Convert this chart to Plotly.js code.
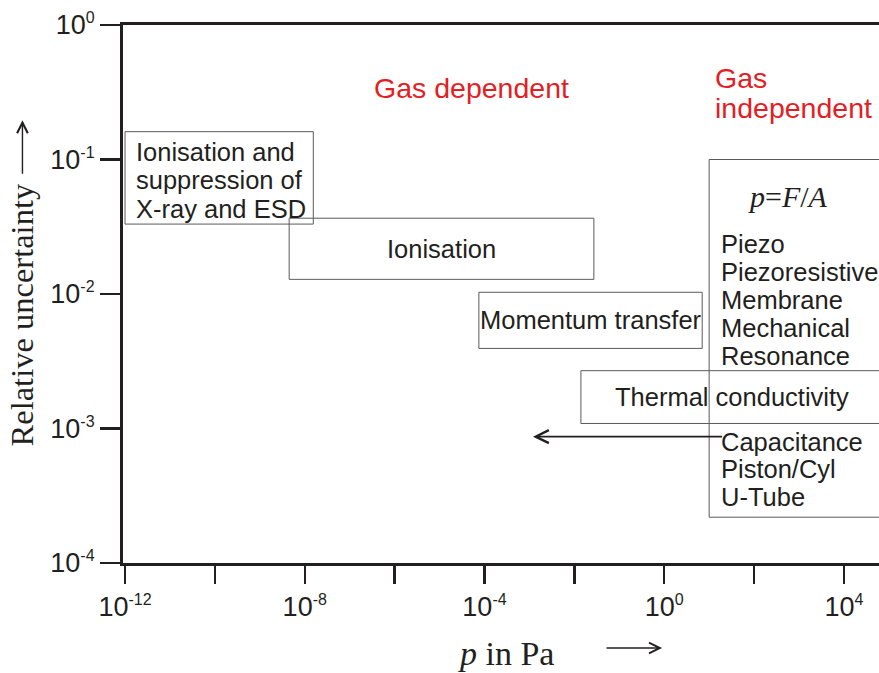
<!DOCTYPE html>
<html>
<head>
<meta charset="utf-8">
<script src="https://cdn.plot.ly/plotly-3.0.1.min.js"></script>
<style>html,body{margin:0;padding:0;background:#fff;}#chart{width:879px;height:673px;}</style>
</head>
<body>
<div id="chart"></div>
<script>
// ---- data ----
const boxNames = ['Ionisation and suppression of X-ray and ESD', 'Ionisation', 'Momentum transfer', 'Thermal conductivity', 'p=F/A'];
const boxLabelLines = [['Ionisation and', 'suppression of', 'X-ray and ESD'], ['Ionisation'], ['Momentum transfer'], ['Thermal conductivity'], []];
const pLow  = [1e-12, 4.5e-9, 7.5e-5, 0.014, 10];
const pHigh = [1.55e-8, 0.0272, 7.0, 1e6, 1e6];
const uLow  = [0.0331, 0.01285, 0.00394, 0.00109, 2.19e-4];
const uHigh = [0.161, 0.0366, 0.0103, 0.00269, 0.100];
const forceMethods = ['Piezo', 'Piezoresistive', 'Membrane', 'Mechanical', 'Resonance'];
const lowMethods = ['Capacitance', 'Piston/Cyl', 'U-Tube'];
const extensionFrom = 21;      // Pa
const extensionTo = 1.2e-3;    // Pa
const extensionU = 8.7e-4;
const xTickVals = [1e-12, 1e-10, 1e-8, 1e-6, 1e-4, 1e-2, 1, 1e2, 1e4];
const xTickExp = ['-12', '', '-8', '', '-4', '', '0', '', '4'];
const yTickVals = [1e-4, 1e-3, 1e-2, 1e-1, 1];
const yTickExp = ['-4', '-3', '-2', '-1', '0'];

// ---- drawing ----
const SANS = 'Liberation Sans, Arial, sans-serif';
const SERIF = 'Liberation Serif, Times New Roman, serif';
const INK = '#231f20';
const RED = '#e31e24';
const L = Math.log10;
const pow10 = (e) => e === '' ? '' : '10<sup><span style="font-size:16px">' + e + '</span></sup>';

const traces = boxNames.map((name, i) => ({
  type: 'scatter', mode: 'lines', name: name, hoverinfo: 'skip', showlegend: false,
  x: [pLow[i], pHigh[i], pHigh[i], pLow[i], pLow[i]],
  y: [uLow[i], uLow[i], uHigh[i], uHigh[i], uLow[i]],
  line: {color: '#5a5a5a', width: 1}
}));

const ann = [];
const BODY = 25.5;
const txt = (o) => ann.push(Object.assign({showarrow: false, xref: 'x', yref: 'y', font: {family: SANS, size: BODY, color: INK}}, o));

const mid = (i) => (L(uLow[i]) + L(uHigh[i])) / 2;
boxLabelLines[0].forEach((t, k) => txt({text: t, x: L(pLow[0]), y: mid(0), xanchor: 'left', yanchor: 'middle', xshift: 9, yshift: 26 - 28.5 * k}));
[1, 2].forEach(i => txt({text: boxLabelLines[i][0], x: (L(pLow[i]) + L(pHigh[i])) / 2, y: mid(i), xanchor: 'center', yanchor: 'middle'}));
txt({text: boxLabelLines[3][0], x: L(pLow[3]), y: mid(3), xanchor: 'left', yanchor: 'middle', xshift: 32});
txt({text: '<i>p</i>=<i>F</i>/<i>A</i>', x: L(pLow[4]), y: L(uHigh[4]), xanchor: 'left', yanchor: 'middle', xshift: 37, yshift: -37, font: {family: SERIF, size: 30, color: INK}});
forceMethods.forEach((t, k) => txt({text: t, x: L(pLow[4]), y: L(uHigh[4]), xanchor: 'left', yanchor: 'middle', xshift: 10, yshift: -84 - 28 * k}));
lowMethods.forEach((t, k) => txt({text: t, x: L(pLow[4]), y: L(uHigh[4]), xanchor: 'left', yanchor: 'middle', xshift: 10, yshift: -282 - 27.5 * k}));

// region labels
txt({text: 'Gas dependent', x: -4.28, y: -0.468, xanchor: 'center', yanchor: 'middle', font: {family: SANS, size: 28.5, color: RED}});
txt({text: 'Gas', x: 1.08, y: -0.394, xanchor: 'left', yanchor: 'middle', font: {family: SANS, size: 28.5, color: RED}});
txt({text: 'independent', x: 1.08, y: -0.617, xanchor: 'left', yanchor: 'middle', font: {family: SANS, size: 28.5, color: RED}});

// extension arrow
ann.push({x: L(extensionTo), y: L(extensionU), ax: L(extensionFrom), ay: L(extensionU), xref: 'x', yref: 'y', axref: 'x', ayref: 'y',
  text: '', showarrow: true, arrowhead: 5, arrowsize: 1.6, arrowwidth: 1.6, arrowcolor: INK});

// axis titles
ann.push({text: 'Relative uncertainty', xref: 'paper', yref: 'paper', x: -0.133, y: 0.461, textangle: -90, showarrow: false,
  xanchor: 'center', yanchor: 'middle', font: {family: SERIF, size: 32.5, color: INK}});
ann.push({xref: 'paper', yref: 'paper', x: -0.133, y: 0.823, ax: 0, ay: 55, text: '', showarrow: true, arrowhead: 5, arrowsize: 1.5, arrowwidth: 1.4, arrowcolor: INK});
ann.push({text: '<i>p</i> in Pa', xref: 'paper', yref: 'paper', x: 0.5066, y: -0.168, showarrow: false,
  xanchor: 'center', yanchor: 'middle', font: {family: SERIF, size: 34, color: INK}});
ann.push({xref: 'paper', yref: 'paper', x: 0.713, y: -0.158, ax: -57, ay: 0, text: '', showarrow: true, arrowhead: 5, arrowsize: 1.5, arrowwidth: 1.4, arrowcolor: INK});

const layout = {
  width: 879, height: 673,
  margin: {l: 123, r: 0, t: 25, b: 110, pad: 0},
  paper_bgcolor: '#ffffff', plot_bgcolor: '#ffffff',
  showlegend: false,
  xaxis: {
    type: 'log', range: [-12.045, 4.78], showgrid: false, zeroline: false,
    showline: true, linewidth: 3, linecolor: INK, mirror: true,
    ticks: 'outside', ticklen: 18, tickwidth: 2.5, tickcolor: INK,
    tickvals: xTickVals, ticktext: xTickExp.map(pow10),
    tickfont: {family: SANS, size: 27, color: INK}
  },
  yaxis: {
    type: 'log', range: [-4, 0], showgrid: false, zeroline: false,
    showline: true, linewidth: 3, linecolor: INK,
    ticks: 'outside', ticklen: 20, tickwidth: 2.5, tickcolor: INK,
    tickvals: yTickVals, ticktext: yTickExp.map(pow10),
    tickfont: {family: SANS, size: 27, color: INK}
  },
  annotations: ann
};

Plotly.newPlot('chart', traces, layout, {staticPlot: true, displayModeBar: false});
</script>
</body>
</html>
